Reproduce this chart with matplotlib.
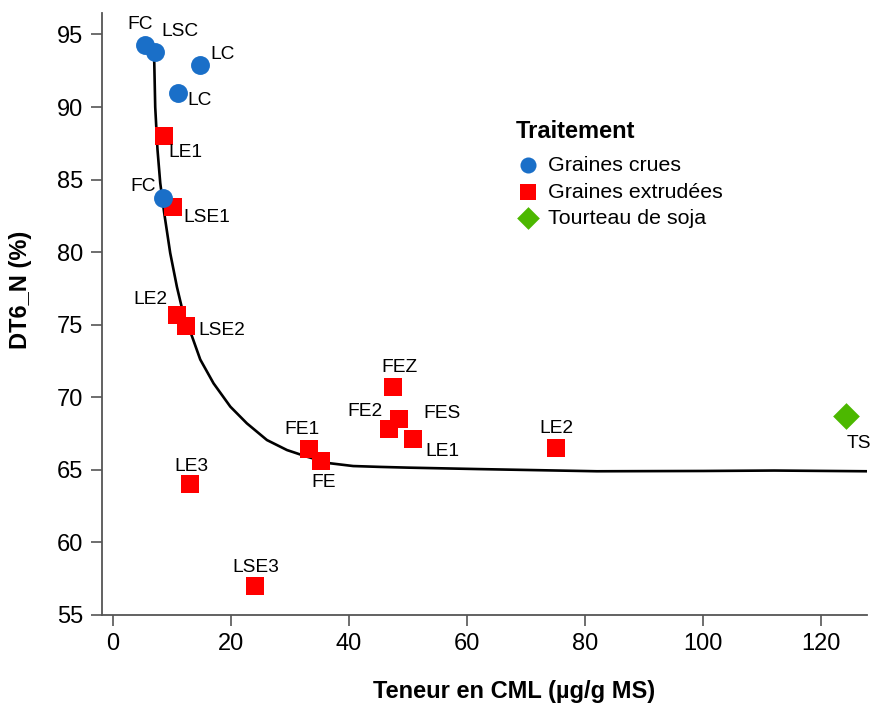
import matplotlib.pyplot as plt
import numpy as np

plt.rcParams['font.family'] = ['Liberation Sans', 'DejaVu Sans']

# ---- data ----
# Graines crues (blue circles)
crues_x = [5.4, 7.1, 14.7, 11.0, 8.5]
crues_y = [94.3, 93.8, 92.9, 91.0, 83.7]
crues_lab = ["FC", "LSC", "LC", "LC", "FC"]

# Graines extrudées (red squares)
extr_x = [8.6, 10.2, 10.8, 12.4, 13.0, 24.0, 33.3, 35.2, 47.5, 46.7, 48.4, 50.8, 75.1]
extr_y = [88.0, 83.1, 75.7, 74.9, 64.0, 57.0, 66.4, 65.6, 70.7, 67.8, 68.5, 67.1, 66.5]
extr_lab = ["LE1", "LSE1", "LE2", "LSE2", "LE3", "LSE3", "FE1", "FE",
            "FEZ", "FE2", "FES", "LE1", "LE2"]

# Tourteau de soja (green diamond)
ts_x = [124.2]
ts_y = [68.7]
ts_lab = ["TS"]

# fitted trend curve
curve_x = [7.1, 7.0, 7.17, 7.56, 8.02, 8.69, 9.71, 10.85, 11.9, 13.4, 14.8,
           17.05, 19.9, 22.7, 26.1, 29.5, 32.9, 36.8, 40.7, 45.3, 50.0,
           62.0, 82.0, 100.0, 112.0, 127.8]
curve_y = [93.8, 93.24, 90.0, 87.04, 84.77, 82.7, 79.94, 77.6, 75.8, 74.2, 72.6,
           70.96, 69.35, 68.2, 67.05, 66.36, 65.9, 65.45, 65.26, 65.2, 65.15,
           65.05, 64.9, 64.92, 64.95, 64.9]

x_ticks = [0, 20, 40, 60, 80, 100, 120]
y_ticks = [55, 60, 65, 70, 75, 80, 85, 90, 95]

# label offsets in pixels (dx, dy), screen y pointing up
crues_off = [(-5, 20), (25, 20), (23, 10), (22, -8), (-20, 12)]
extr_off = [(22, -16), (34, -10), (-26, 15), (36, -4), (2, 18), (1, 18),
            (-8, 20), (3, -21), (6, 20), (-24, 18), (43, 6), (30, -12), (0, 20)]
ts_off = [(13, -27)]


def plot_cml():
    fig = plt.figure(figsize=(8.75, 7.06), dpi=100)
    ax = fig.add_axes([0.1162, 0.129, 0.875, 0.853])

    ax.plot(curve_x, curve_y, color='black', lw=1.9, zorder=1,
            solid_joinstyle='round')

    ax.scatter(crues_x, crues_y, marker='o', s=185, color='#1a6fc8',
               label='Graines crues', zorder=3, linewidths=0)
    ax.scatter(extr_x, extr_y, marker='s', s=185, color='#ff0000',
               label='Graines extrudées', zorder=2, linewidths=0)
    ax.scatter(ts_x, ts_y, marker='D', s=185, color='#4cb800',
               label='Tourteau de soja', zorder=2, linewidths=0)

    groups = [(crues_x, crues_y, crues_lab, crues_off),
              (extr_x, extr_y, extr_lab, extr_off),
              (ts_x, ts_y, ts_lab, ts_off)]
    for xs, ys, labs, offs in groups:
        for x, y, lab, off in zip(xs, ys, labs, offs):
            ax.annotate(lab, (x, y), xytext=off, textcoords='offset pixels',
                        ha='center', va='center', fontsize=13.8)

    ax.set_xlim(-1.9, 127.8)
    ax.set_ylim(55.0, 96.5)
    ax.set_xticks(x_ticks)
    ax.set_yticks(y_ticks)
    ax.tick_params(labelsize=17, length=8, width=1.2, color='#555555', pad=5)

    for side in ['top', 'right']:
        ax.spines[side].set_visible(False)
    for side in ['left', 'bottom']:
        ax.spines[side].set_color('#555555')
        ax.spines[side].set_linewidth(1.3)

    ax.set_xlabel("Teneur en CML (µg/g MS)", fontsize=17, fontweight='bold')
    ax.set_ylabel("DT6_N (%)", fontsize=17, fontweight='bold')
    ax.xaxis.set_label_coords(0.539, -0.108)
    ax.yaxis.set_label_coords(-0.091, 0.54)

    # legend title drawn separately to get the gap of the original
    fig.text(516 / 875, 1 - 131 / 706, "Traitement", fontsize=17,
             fontweight='bold', ha='left', va='center')
    ax.legend(loc='upper left', bbox_to_anchor=(0.584, 0.779),
              bbox_transform=fig.transFigure, frameon=False,
              fontsize=15.4, handlelength=1.6, handletextpad=0.15,
              labelspacing=0.35, borderaxespad=0, borderpad=0,
              markerscale=0.85)

    fig.savefig("out.png", dpi=100)


if __name__ == "__main__":
    plot_cml()
